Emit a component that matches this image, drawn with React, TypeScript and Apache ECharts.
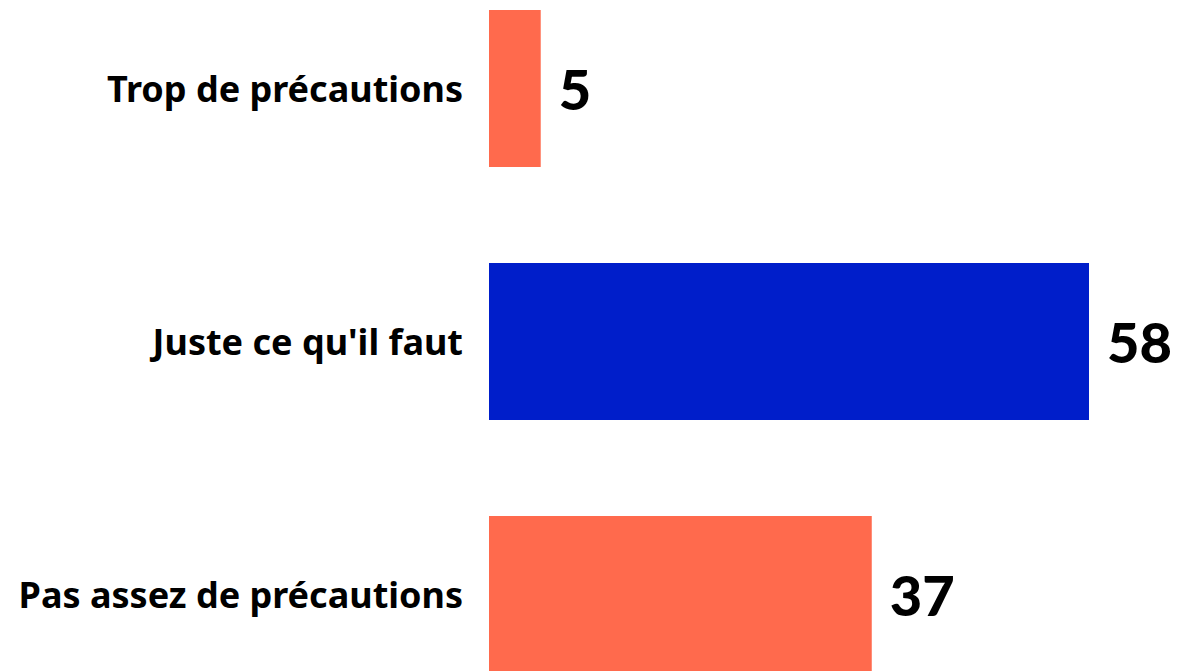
import React, { useEffect, useRef } from "react";
import * as echarts from "echarts";

const categories = ["Trop de précautions", "Juste ce qu'il faut", "Pas assez de précautions"];
const values = [5, 58, 37];
const barColors = ["#FF6A4D", "#001ECA", "#FF6A4D"];

export default function App() {
  const ref = useRef<HTMLDivElement>(null);
  useEffect(() => {
    document.body.style.margin = "0";
    document.body.style.overflow = "hidden";
    const chart = echarts.init(ref.current!, null, { renderer: "svg" });
    chart.setOption({
      animation: false,
      grid: { left: 489, right: 90, top: 0, bottom: 0, containLabel: false },
      xAxis: {
        type: "value",
        min: 0,
        max: "dataMax",
        show: false,
      },
      yAxis: {
        type: "category",
        data: categories,
        inverse: true,
        axisLine: { show: false },
        axisTick: { show: false },
        splitLine: { show: false },
        axisLabel: {
          margin: 26,
          color: "#000",
          fontFamily: "Noto Sans",
          fontWeight: "bold",
          fontSize: 36,
        },
      },
      series: [
        {
          type: "bar",
          barWidth: 157,
          data: values.map((v, i) => ({ value: v, itemStyle: { color: barColors[i] } })),
          label: {
            show: true,
            position: "right",
            distance: 18,
            color: "#000",
            fontFamily: "Lato",
            fontWeight: 900,
            fontSize: 56,
          },
        },
      ],
    });
    return () => chart.dispose();
  }, []);
  return (
    <div style={{ width: 1179, height: 671, overflow: "hidden", position: "relative" }}>
      <div ref={ref} style={{ position: "absolute", left: 0, top: -38, width: 1179, height: 759 }} />
    </div>
  );
}
